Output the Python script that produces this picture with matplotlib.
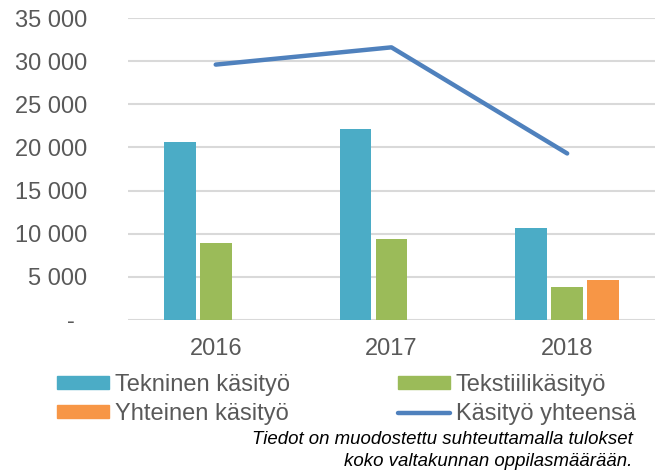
import numpy as np
import matplotlib
matplotlib.use('Agg')
from matplotlib import pyplot as plt
from matplotlib.ticker import FuncFormatter
from matplotlib.patches import Patch
from matplotlib.lines import Line2D

vuodet = ['2016', '2017', '2018']
tekninen = [20600, 22100, 10700]
tekstiili = [8900, 9400, 3800]
yhteinen = [np.nan, np.nan, 4650]
yhteensa = [29600, 31600, 19300]

sininen = '#4BACC6'
vihrea = '#9BBB59'
oranssi = '#F79646'
viiva = '#4F81BD'
harmaa = '#595959'

plt.rcParams['font.family'] = ['Liberation Sans', 'DejaVu Sans']

fig = plt.figure(figsize=(6.59, 4.74), dpi=100)
ax = fig.add_axes([0.194, 0.325, 0.800, 0.637])

x = np.arange(len(vuodet))
leveys = 0.18
siirto = 0.205
ax.bar(x - siirto, tekninen, leveys, color=sininen, zorder=2)
ax.bar(x, tekstiili, leveys, color=vihrea, zorder=2)
ax.bar(x + siirto, yhteinen, leveys, color=oranssi, zorder=2)
ax.plot(x, yhteensa, color=viiva, linewidth=3.2, solid_capstyle='round', zorder=3)

ax.set_xlim(-0.5, 2.5)
ax.set_ylim(0, 35000)
ax.set_yticks(range(0, 35001, 5000))
ax.set_xticks(x)
ax.set_xticklabels(vuodet)


def muotoile(v, pos):
    if v == 0:
        return '-  '
    return f'{int(v):,}'.replace(',', ' ')


ax.yaxis.set_major_formatter(FuncFormatter(muotoile))
ax.grid(axis='y', color='#D9D9D9', linewidth=1.5, zorder=0)
for s in ax.spines.values():
    s.set_visible(False)
ax.tick_params(axis='both', length=0, labelsize=17, labelcolor=harmaa)
ax.tick_params(axis='y', pad=29)
ax.tick_params(axis='x', pad=13)

# rivit täytetään sarakkeittain, joten järjestys: vasen sarake ensin
kahvat = [Patch(color=sininen), Patch(color=oranssi), Patch(color=vihrea),
          Line2D([0], [0], color=viiva, linewidth=3.2, solid_capstyle='round')]
nimet = ['Tekninen käsityö', 'Yhteinen käsityö', 'Tekstiilikäsityö', 'Käsityö yhteensä']
leg = fig.legend(kahvat, nimet, ncol=2, loc='upper left', bbox_to_anchor=(0.086, 0.211),
                 frameon=False, fontsize=17, handlelength=2.2, handleheight=0.5,
                 handletextpad=0.25, columnspacing=4.6, labelspacing=0.3,
                 borderaxespad=0, borderpad=0)
for t in leg.get_texts():
    t.set_color(harmaa)

fig.text(0.96, 1 - 440 / 474, 'Tiedot on muodostettu suhteuttamalla tulokset',
         ha='right', va='center', fontsize=13.4, style='italic', color='black')
fig.text(0.96, 1 - 462 / 474, 'koko valtakunnan oppilasmäärään.',
         ha='right', va='center', fontsize=13.4, style='italic', color='black')

fig.savefig('out.png', dpi=100)
